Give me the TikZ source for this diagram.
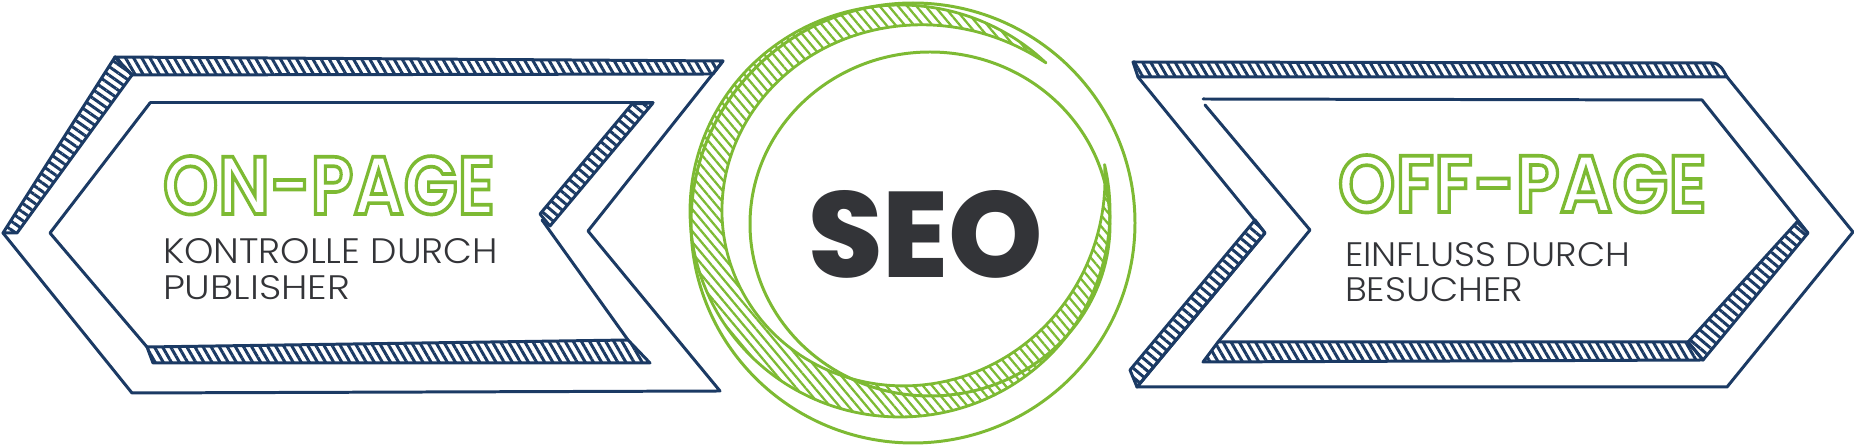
\documentclass[tikz,border=0pt]{standalone}
\usepackage{fontspec}
\setmainfont{Poppins}
\newfontfamily\popl{Poppins Light}
\newfontfamily\popx{Poppins ExtraBold}
\newfontfamily\pops{Poppins SemiBold}
\usetikzlibrary{patterns.meta}
\definecolor{navyc}{HTML}{1B3A64}
\definecolor{lgreen}{HTML}{7DBA33}
\definecolor{dgray}{HTML}{333438}
\newcommand{\hollowtext}[1]{\special{pdf:literal direct 1 Tr 0.45 w}#1\special{pdf:literal direct 0 Tr}}
\tikzset{
  edge/.style={draw=navyc, line width=0.85pt, line join=round, line cap=round},
  hatchband/.style={draw=navyc, line width=0.85pt, line join=round,
     pattern={Lines[angle=#1,distance=2.0pt,line width=0.85pt]}, pattern color=navyc},
  gline/.style={draw=lgreen, line width=0.85pt},
  ghatch/.style={draw=lgreen, line width=0.8pt, line join=round,
     pattern={Lines[angle=-50,distance=2.0pt,line width=0.65pt]}, pattern color=lgreen},
  txt/.style={anchor=north west, inner sep=0pt, outer sep=0pt}
}
\begin{document}
\begin{tikzpicture}[x=0.1mm,y=-0.1mm,
  declare function={bs(\a)=abs(sin(((\a-46)/327)*180)); bt(\a)=32*bs(\a)*(2-bs(\a));}]
\useasboundingbox (0,0) rectangle (1854,445);

% ---------------- left arrow ----------------
\path[hatchband=-60] (115,57) -- (723,61) -- (713,74) -- (132,75) -- cycle;
\path[hatchband=-35] (3,233) -- (115,57) -- (132,75) -- (17,233) -- cycle;
\draw[edge] (723,61) -- (588,231) -- (720,391) -- (132,393) -- (3,233);
% inner
\draw[edge] (150,103) -- (653,103);
\draw[edge] (150,103) -- (50,233) -- (147,347);
\path[hatchband=-40] (653,103) -- (632,104) -- (540,214) -- (550,226) -- cycle;
\draw[edge] (542,220) -- (628,340);
\path[hatchband=-60] (147,347) -- (628,340) -- (650,363) -- (153,363) -- cycle;

% ---------------- right arrow ----------------
\path[hatchband=-60] (1133,62) -- (1712,63) to[out=0,in=120] (1727,77) -- (1138,77) -- cycle;
\draw[edge] (1138,77) -- (1265,233) -- (1137,387) -- (1727,387) -- (1853,232) -- (1727,77);
\path[hatchband=-40] (1265,233) -- (1137,387) -- (1130,370) -- (1255,220) -- cycle;
% inner
\draw[edge] (1203,99) -- (1702,100) -- (1808,233);
\draw[edge] (1205,105) -- (1310,230) -- (1218,342);
\path[hatchband=-60] (1218,342) -- (1688,342) -- (1703,360) -- (1203,362) -- cycle;
\path[hatchband=-40] (1688,342) -- (1797,222) -- (1808,233) -- (1703,360) -- cycle;

% ---------------- centre coin ----------------
\draw[gline] (913,223) ellipse [x radius=22.2mm, y radius=22.0mm];
\path[ghatch] plot[domain=46:373,samples=90,smooth] ({900+210*cos(\x)},{211-206*sin(\x)})
  -- plot[domain=373:46,samples=90,smooth]
  ({900+(210-bt(\x))*cos(\x)},{211-(206-bt(\x))*sin(\x)})
  -- cycle;
\draw[gline] (930,224) ellipse [x radius=18.0mm, y radius=17.2mm];

% ---------------- texts ----------------
\node[txt, text=lgreen] (onpage) at (163,156) {\resizebox{33.2mm}{5.8mm}{\pops\hollowtext{ON-PAGE}}};
\node[txt, text=dgray] (ondesca) at (163,239) {\resizebox{33.5mm}{2.5mm}{\popl KONTROLLE DURCH}};
\node[txt, text=dgray] (ondescb) at (163,276) {\resizebox{18.7mm}{2.4mm}{\popl PUBLISHER}};

\node[txt, text=lgreen] (offpage) at (1338,155) {\resizebox{36.9mm}{5.7mm}{\pops\hollowtext{OFF-PAGE}}};
\node[txt, text=dgray] (offdesca) at (1345,243) {\resizebox{28.5mm}{2.4mm}{\popl EINFLUSS DURCH}};
\node[txt, text=dgray] (offdescb) at (1345,278) {\resizebox{17.8mm}{2.4mm}{\popl BESUCHER}};

\node[txt, text=dgray] (seo) at (808,190) {\resizebox{23.5mm}{8.7mm}{\popx SEO}};
\end{tikzpicture}
\end{document}
